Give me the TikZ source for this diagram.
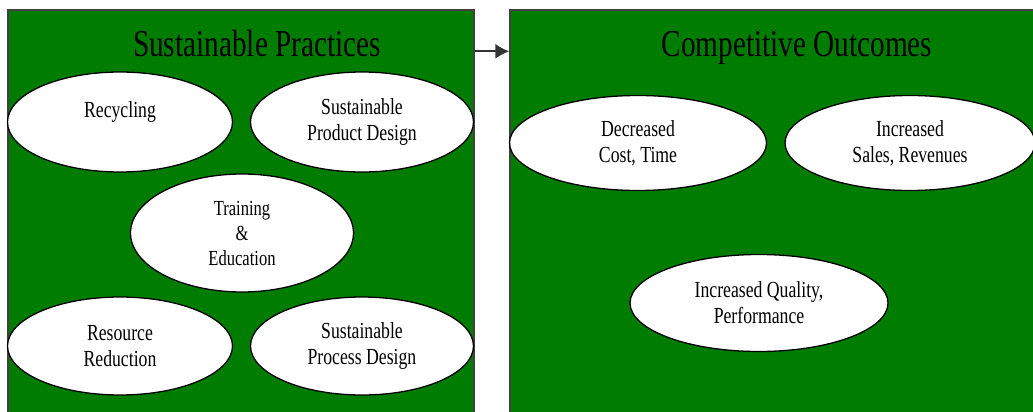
\documentclass[tikz,border=0pt]{standalone}
\usepackage{fontspec}
\setmainfont[FakeStretch=0.77]{Liberation Serif}
\usetikzlibrary{arrows.meta, shapes.geometric}
\definecolor{panelgreen}{RGB}{0,125,0}

\begin{document}
\begin{tikzpicture}[
    x=1pt, y=-1pt,
panel/.style   = {draw=black!75, line width=1.4pt, fill=panelgreen, inner sep=0pt},
oval/.style    = {ellipse, draw, line width=1.3pt, fill=white, inner sep=0pt,
                  align=center, font=\fontsize{23}{26}\selectfont},
heading/.style = {anchor=base, font=\fontsize{38}{44}\selectfont},
sy/.style      = {yshift=-42pt}
                        ]
\useasboundingbox (0,0) rectangle (1033,412);
\clip (0,0) rectangle (1033,412);
% the two panels
\node (practices) [panel, minimum width=466pt, minimum height=430pt] at (241,225) {};
\node (outcomes)  [panel, minimum width=540pt, minimum height=430pt] at (780,225) {};
\node (ptitle) [heading] at (257,57) {Sustainable Practices};
\node (otitle) [heading] at (797,57) {Competitive Outcomes};
%
\draw[line width=1.6pt, black!80, -{Latex[length=14pt,width=15pt]}]
    ([sy] practices.north east) -- ([sy] outcomes.north west);
% practices
\node (recycling) [oval, minimum width=225pt, minimum height=100pt, text depth=24pt]
    at (120,122) {Recycling};
\node (product)   [oval, minimum width=223pt, minimum height=100pt]
    at (362,122) {Sustainable\\Product Design};
\node (training)  [oval, minimum width=223pt, minimum height=118pt,
                   font=\fontsize{21.5}{25}\selectfont]
    at (242,233) {Training\\\&\\Education};
\node (resource)  [oval, minimum width=225pt, minimum height=98pt]
    at (120,346) {Resource\\Reduction};
\node (process)   [oval, minimum width=223pt, minimum height=98pt]
    at (362,346) {Sustainable\\Process Design};
% outcomes
\node (cost)    [oval, minimum width=257pt, minimum height=95pt]
    at (638,143) {Decreased\\Cost, Time};
\node (sales)   [oval, minimum width=250pt, minimum height=95pt]
    at (910,143) {Increased\\Sales, Revenues};
\node (quality) [oval, minimum width=258pt, minimum height=97pt]
    at (759,303) {Increased Quality,\\Performance};
    \end{tikzpicture}
\end{document}
